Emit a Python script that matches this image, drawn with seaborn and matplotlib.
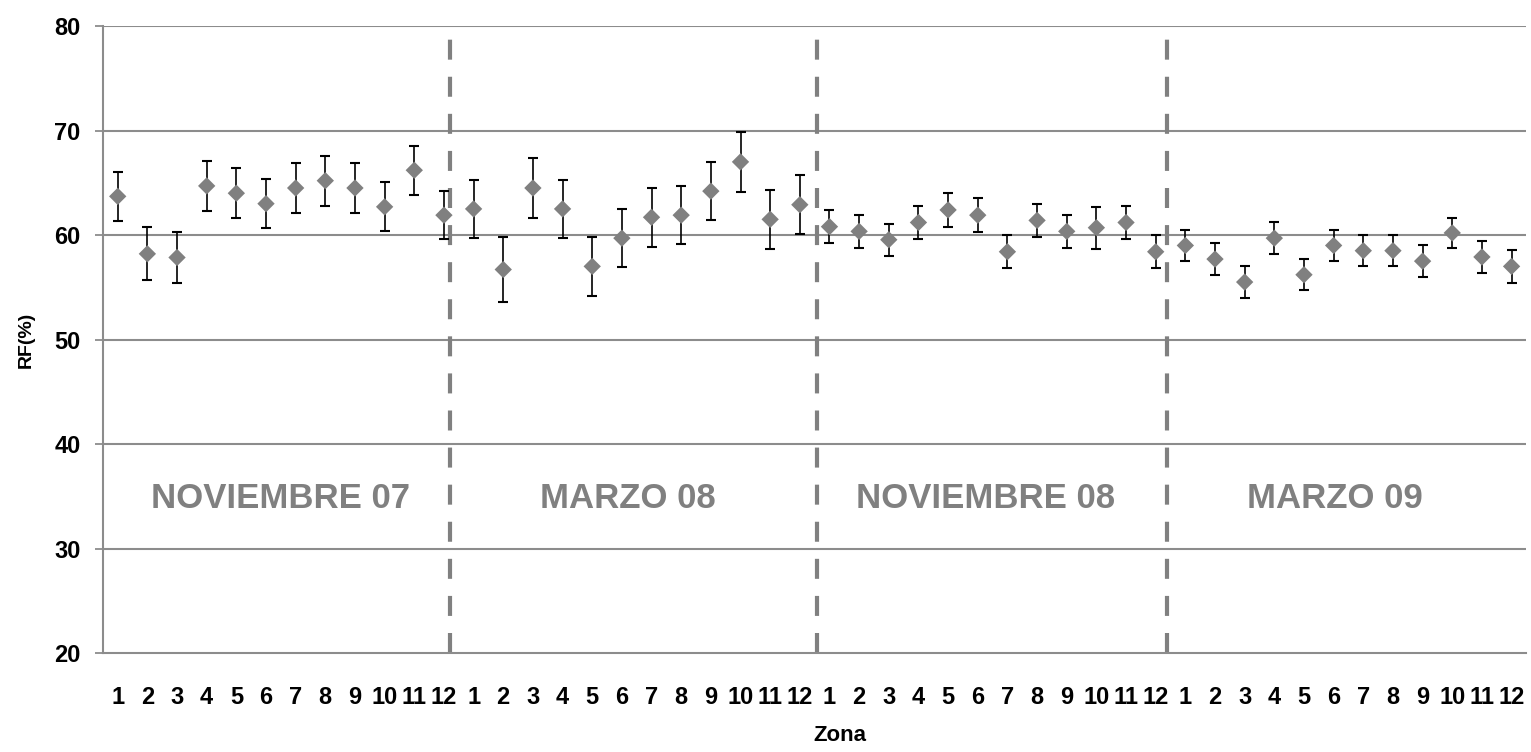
import numpy as np
import pandas as pd
import matplotlib
matplotlib.use("Agg")
import matplotlib.pyplot as plt
import seaborn as sns

# ---------------- data ----------------
periods = ["NOVIEMBRE 07", "MARZO 08", "NOVIEMBRE 08", "MARZO 09"]
zones = list(range(1, 13))

rf_nov07 = [63.7, 58.2, 57.85, 64.7, 64.0, 63.0, 64.5, 65.2, 64.5, 62.7, 66.2, 61.9]
err_nov07 = [2.35, 2.55, 2.4, 2.4, 2.4, 2.35, 2.4, 2.4, 2.4, 2.35, 2.35, 2.3]

rf_mar08 = [62.5, 56.7, 64.5, 62.5, 57.0, 59.7, 61.7, 61.9, 64.2, 67.0, 61.5, 62.9]
err_mar08 = [2.75, 3.1, 2.85, 2.75, 2.85, 2.8, 2.8, 2.8, 2.8, 2.9, 2.8, 2.8]

rf_nov08 = [60.8, 60.35, 59.55, 61.2, 62.4, 61.9, 58.4, 61.4, 60.35, 60.7, 61.2, 58.4]
err_nov08 = [1.55, 1.6, 1.55, 1.6, 1.6, 1.6, 1.6, 1.6, 1.6, 2.0, 1.6, 1.6]

rf_mar09 = [59.0, 57.7, 55.5, 59.7, 56.2, 59.0, 58.5, 58.5, 57.5, 60.2, 57.9, 57.0]
err_mar09 = [1.5, 1.55, 1.5, 1.5, 1.5, 1.5, 1.5, 1.5, 1.55, 1.4, 1.55, 1.55]

y_ticks = [20, 30, 40, 50, 60, 70, 80]

# ---------------- table ----------------
rf_all = [rf_nov07, rf_mar08, rf_nov08, rf_mar09]
err_all = [err_nov07, err_mar08, err_nov08, err_mar09]
rows = []
for p, (vals, errs) in enumerate(zip(rf_all, err_all)):
    for z, v, e in zip(zones, vals, errs):
        rows.append({"periodo": periods[p], "zona": z, "rf": v, "err": e})
df = pd.DataFrame(rows)
df["pos"] = np.arange(len(df))

# ---------------- style ----------------
sns.set_style("white")
plt.rcParams["font.family"] = ["Liberation Sans", "DejaVu Sans"]
plt.rcParams["font.weight"] = "bold"
plt.rcParams["text.color"] = "black"
plt.rcParams["axes.labelcolor"] = "black"
plt.rcParams["xtick.labelcolor"] = "black"
plt.rcParams["ytick.labelcolor"] = "black"

GRAY = "#808080"
GRID = "#8c8c8c"

fig = plt.figure(figsize=(15.31, 7.52), dpi=100)
ax = fig.add_axes([0.0672, 0.1316, 0.9298, 0.8338])

ax.errorbar(df["pos"], df["rf"], yerr=df["err"], fmt="none", ecolor="black",
            elinewidth=1.2, capsize=3.6, capthick=1.5, zorder=3)
sns.scatterplot(data=df, x="pos", y="rf", marker="D", s=78, color=GRAY,
                edgecolor="none", linewidth=0, ax=ax, zorder=4, legend=False)

ax.set_xlim(-0.5, len(df) - 0.5)
ax.set_ylim(20, 80)
ax.set_yticks(y_ticks)
ax.set_yticklabels([str(t) for t in y_ticks], fontsize=17, fontweight="bold",
                   color="black")
ax.set_xticks(df["pos"])
ax.set_xticklabels([str(z) for z in df["zona"]], fontsize=17, fontweight="bold",
                   color="black")

for t in y_ticks[1:]:
    ax.axhline(t, color=GRID, lw=1.5, zorder=1)

for s in ["top", "right"]:
    ax.spines[s].set_visible(False)
for s in ["left", "bottom"]:
    ax.spines[s].set_color(GRID)
    ax.spines[s].set_linewidth(1.5)

ax.tick_params(axis="x", length=0, pad=24)
ax.tick_params(axis="y", length=6, width=1.3, color=GRID, pad=10, direction="out")
ax.yaxis.set_ticks_position("left")

# separators between campaigns
sep_pos = [11.2, 23.58, 35.38]
for xp in sep_pos:
    ax.vlines(xp, 20, 80, colors=GRAY, lw=3, linestyles=(0, (4.8, 4.1)),
              zorder=2, clip_on=False)

# campaign names
name_pos = [5.5, 17.2, 29.25, 41.05]
for xp, name in zip(name_pos, periods):
    ax.text(xp, 34.8, name, ha="center", va="center", fontsize=25,
            fontweight="bold", color=GRAY)

ax.set_xlabel("Zona", fontsize=16, fontweight="bold", color="black")
ax.xaxis.set_label_coords(0.518, -0.115)
ax.set_ylabel("RF(%)", fontsize=14, fontweight="bold", color="black")
ax.yaxis.set_label_coords(-0.0478, 0.5)

fig.savefig("out.png", dpi=100)
